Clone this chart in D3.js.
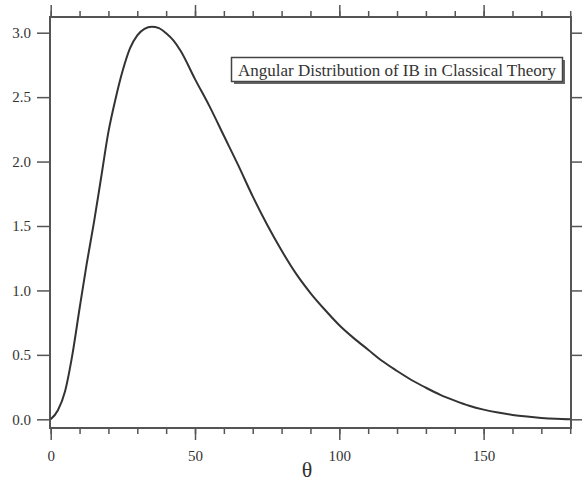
<!DOCTYPE html>
<html>
<head>
<meta charset="utf-8">
<script src="https://cdn.jsdelivr.net/npm/d3@7"></script>
<style>
  body { margin: 0; background: #fff; }
  text { font-family: "Liberation Serif", "Times New Roman", serif; fill: #333; }
</style>
</head>
<body>
<div id="chart"></div>
<script>
// angle (deg) and intensity
var theta = [0, 2.5, 5, 7.5, 10, 12.5, 15, 17.5, 20, 22.5, 25, 27.5, 30, 32.5, 35, 37.5, 40, 42.5, 45,
             50, 55, 60, 65, 70, 75, 80, 85, 90, 95, 100, 105, 110, 115, 120, 125, 130, 135, 140,
             145, 150, 155, 160, 165, 170, 175, 180];
var intensity = [0, 0.07, 0.22, 0.50, 0.86, 1.21, 1.53, 1.88, 2.23, 2.49, 2.71, 2.88, 2.98, 3.03, 3.046, 3.035, 2.995, 2.94, 2.86,
                 2.64, 2.43, 2.20, 1.97, 1.73, 1.51, 1.31, 1.13, 0.98, 0.85, 0.73, 0.63, 0.54, 0.45, 0.375, 0.305, 0.245, 0.19, 0.145,
                 0.105, 0.075, 0.052, 0.034, 0.021, 0.011, 0.004, 0];
var xMajor = [0, 50, 100, 150];
var xMinor = d3.range(0, 181, 10);
var yMajor = [0, 0.5, 1.0, 1.5, 2.0, 2.5, 3.0];
var legendText = "Angular Distribution of IB in Classical Theory";
var xTitle = "\u03b8";

var width = 582, height = 481;
var frame = {left: 50, right: 571, top: 17, bottom: 428};

var svg = d3.select("#chart")
  .append("svg")
    .attr("width", width)
    .attr("height", height);

var x = d3.scaleLinear().domain([0, 180]).range([50.7, 570.2]);
var y = d3.scaleLinear().domain([0, 3]).range([419.3, 32.7]);

var axisColor = "#555";

// bottom axis: minor then major ticks
svg.append("g")
  .attr("transform", "translate(0," + frame.bottom + ")")
  .call(d3.axisBottom(x).tickValues(xMinor).tickSize(6).tickFormat(""))
  .call(function(g) { g.select(".domain").remove(); });
svg.append("g")
  .attr("transform", "translate(0," + frame.bottom + ")")
  .call(d3.axisBottom(x).tickValues(xMajor).tickSize(12).tickPadding(10).tickFormat(d3.format("d")))
  .call(function(g) { g.select(".domain").remove(); });

// top axis mirrors the bottom one
svg.append("g")
  .attr("transform", "translate(0," + frame.top + ")")
  .call(d3.axisTop(x).tickValues(xMinor).tickSize(6).tickFormat(""))
  .call(function(g) { g.select(".domain").remove(); });
svg.append("g")
  .attr("transform", "translate(0," + frame.top + ")")
  .call(d3.axisTop(x).tickValues(xMajor).tickSize(12).tickFormat(""))
  .call(function(g) { g.select(".domain").remove(); });

// left and right axes
svg.append("g")
  .attr("transform", "translate(" + frame.left + ",0)")
  .call(d3.axisLeft(y).tickValues(yMajor).tickSize(13).tickPadding(6).tickFormat(d3.format(".1f")))
  .call(function(g) { g.select(".domain").remove(); });
svg.append("g")
  .attr("transform", "translate(" + frame.right + ",0)")
  .call(d3.axisRight(y).tickValues(yMajor).tickSize(12).tickFormat(""))
  .call(function(g) { g.select(".domain").remove(); });

svg.selectAll(".tick line").attr("stroke", axisColor).attr("stroke-width", 1.5);
svg.selectAll(".tick text").attr("fill", "#333").style("font-family", "Liberation Serif").style("font-size", "15px");

// frame
svg.append("rect")
  .attr("x", frame.left)
  .attr("y", frame.top)
  .attr("width", frame.right - frame.left)
  .attr("height", frame.bottom - frame.top)
  .attr("fill", "none")
  .attr("stroke", axisColor)
  .attr("stroke-width", 2);

// curve
var pts = theta.map(function(t, i) { return [t, intensity[i]]; });
var line = d3.line()
  .x(function(d) { return x(d[0]); })
  .y(function(d) { return y(d[1]); })
  .curve(d3.curveMonotoneX);

svg.append("path")
  .datum(pts)
  .attr("d", line)
  .attr("fill", "none")
  .attr("stroke", "#333")
  .attr("stroke-width", 2);

// legend box with shadow
var lg = svg.append("g");
lg.append("rect")
  .attr("x", 234).attr("y", 60)
  .attr("width", 331).attr("height", 24)
  .attr("fill", "#666");
lg.append("rect")
  .attr("x", 231.5).attr("y", 57.5)
  .attr("width", 331).attr("height", 24)
  .attr("fill", "#fff")
  .attr("stroke", "#444")
  .attr("stroke-width", 1.5);
lg.append("text")
  .attr("x", 397).attr("y", 75.5)
  .attr("text-anchor", "middle")
  .style("font-size", "17px")
  .text(legendText);

// x title
svg.append("text")
  .attr("x", 307).attr("y", 477)
  .attr("text-anchor", "middle")
  .style("font-size", "22px")
  .text(xTitle);
</script>
</body>
</html>
